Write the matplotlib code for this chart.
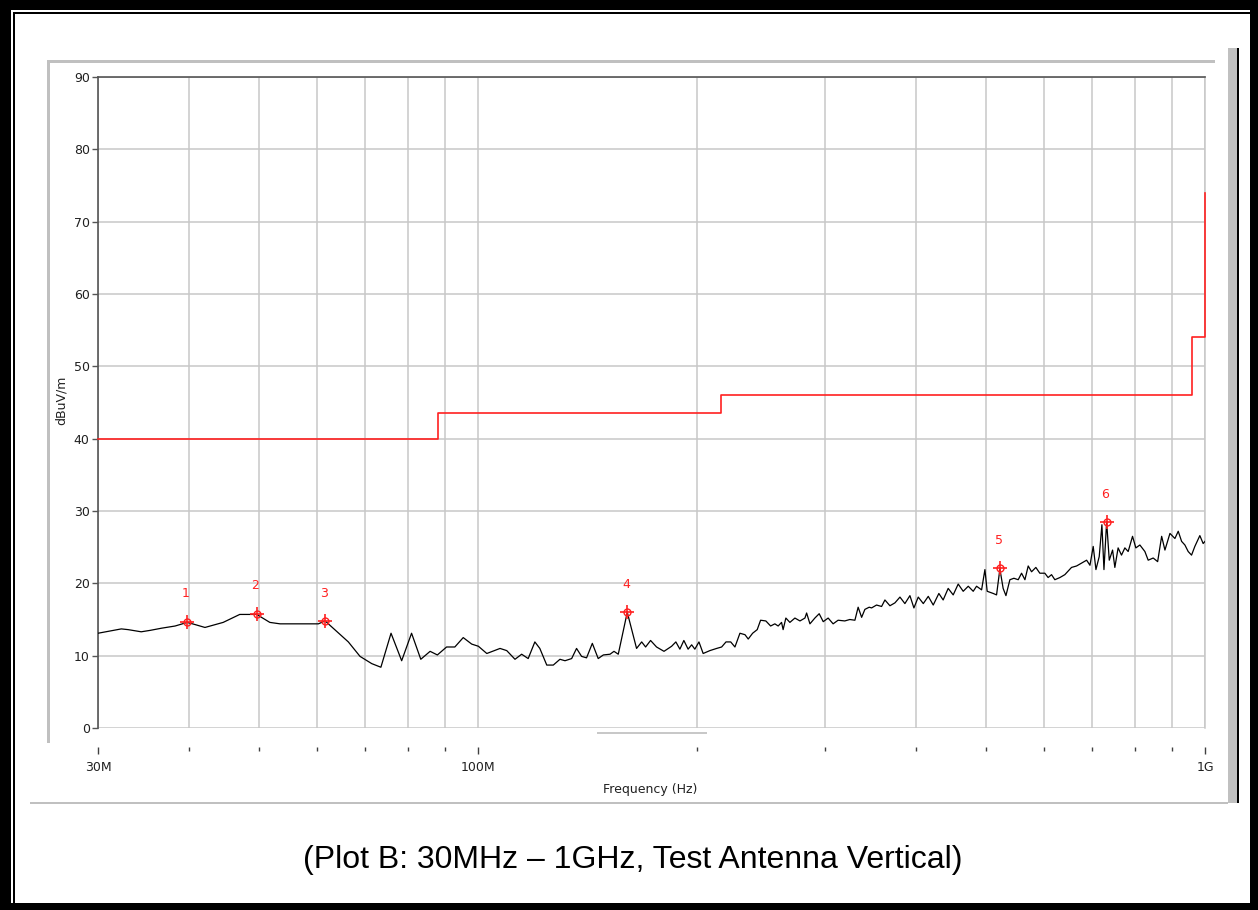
import matplotlib
matplotlib.use("Agg")
import matplotlib.pyplot as plt
from matplotlib.patches import Rectangle
from matplotlib.ticker import FixedLocator, NullFormatter

# ====================================
# 1. Data
# ====================================

trace_freq_mhz = [
    30.0, 32.3, 33.0, 34.4, 35.4, 36.7, 38.3, 39.8, 40.8, 42.1,
    44.6, 47.0, 48.4, 49.6, 51.7, 53.4, 60.3, 61.6, 63.5, 66.3,
    68.8, 71.4, 73.5, 75.9, 78.5, 81.0, 83.4, 85.9, 87.9, 90.5,
    92.9, 95.4, 98.0, 100.1, 102.8, 107.2, 109.5, 112.4, 114.8, 117.2,
    119.7, 121.6, 124.3, 126.9, 129.6, 131.7, 134.5, 136.6, 138.8, 141.0,
    143.6, 146.3, 148.7, 151.9, 153.8, 155.9, 160.4, 165.2, 167.9, 170.0,
    172.7, 176.0, 180.2, 184.6, 187.1, 189.5, 191.9, 194.5, 196.7, 198.7,
    201.3, 204.0, 208.4, 212.9, 216.3, 219.3, 222.6, 225.6, 229.2, 232.9,
    235.3, 238.6, 242.1, 244.7, 248.8, 252.6, 256.0, 258.7, 261.5, 262.8,
    265.1, 268.5, 272.8, 277.2, 281.6, 283.1, 286.1, 290.6, 294.6, 298.4,
    303.1, 307.9, 312.8, 319.5, 324.6, 329.9, 333.3, 337.0, 340.5, 345.2,
    347.8, 353.3, 359.0, 362.8, 368.6, 374.5, 380.5, 386.5, 392.7, 397.7,
    403.2, 409.7, 416.2, 422.8, 430.4, 436.3, 443.3, 450.4, 457.6, 464.9,
    472.4, 479.9, 485.0, 492.8, 498.0, 501.6, 511.3, 516.7, 522.2, 527.6,
    532.3, 539.0, 545.9, 553.4, 559.3, 565.3, 571.2, 577.3, 585.2, 592.6,
    602.1, 608.4, 615.0, 621.5, 631.5, 641.5, 655.2, 665.8, 676.4, 687.3,
    694.6, 701.8, 707.9, 715.3, 721.4, 726.1, 732.3, 738.4, 746.2, 751.6,
    759.4, 767.6, 775.8, 784.0, 794.9, 803.3, 813.6, 826.6, 835.3, 848.7,
    860.7, 871.7, 880.8, 894.9, 909.1, 918.7, 928.6, 938.3, 948.1, 958.3,
    968.3, 983.8, 994.2, 1000.0,
]

trace_level_dbuv = [
    13.1, 13.7, 13.6, 13.3, 13.5, 13.8, 14.1, 14.6, 14.3, 13.9,
    14.6, 15.7, 15.7, 15.7, 14.6, 14.4, 14.4, 14.8, 13.6, 11.9,
    9.9, 8.9, 8.4, 13.1, 9.3, 13.1, 9.5, 10.6, 10.1, 11.2,
    11.2, 12.5, 11.6, 11.3, 10.3, 11.0, 10.7, 9.5, 10.2, 9.6,
    11.9, 11.0, 8.7, 8.7, 9.5, 9.3, 9.6, 11.0, 9.9, 9.7,
    11.7, 9.6, 10.1, 10.2, 10.6, 10.2, 16.0, 11.0, 11.9, 11.2,
    12.1, 11.2, 10.6, 11.3, 11.9, 10.9, 12.1, 10.9, 11.5, 10.9,
    11.9, 10.3, 10.7, 11.0, 11.2, 11.9, 11.9, 11.2, 13.1, 12.9,
    12.3, 13.1, 13.6, 14.9, 14.8, 14.1, 14.4, 14.1, 14.6, 13.6,
    15.2, 14.6, 15.2, 14.8, 15.2, 15.9, 14.4, 15.2, 15.8, 14.7,
    15.2, 14.4, 14.9, 14.8, 15.0, 14.9, 16.7, 15.3, 16.4, 16.7,
    16.6, 17.0, 16.8, 17.7, 16.9, 17.3, 18.1, 17.2, 18.3, 16.6,
    18.1, 17.2, 18.2, 17.0, 18.6, 17.7, 19.3, 18.4, 19.9, 18.9,
    19.6, 18.9, 19.6, 19.1, 21.9, 18.9, 18.6, 18.4, 22.0, 19.3,
    18.3, 20.5, 20.7, 20.5, 21.4, 20.5, 22.4, 21.6, 22.2, 21.4,
    21.4, 20.8, 21.2, 20.5, 20.8, 21.2, 22.2, 22.4, 22.8, 23.2,
    22.5, 25.1, 21.9, 23.7, 28.1, 21.9, 28.5, 23.2, 24.6, 22.2,
    24.9, 23.9, 24.9, 24.4, 26.5, 24.9, 25.3, 24.4, 23.2, 23.5,
    23.0, 26.5, 24.6, 26.9, 26.2, 27.2, 25.8, 25.3, 24.4, 23.9,
    25.1, 26.6, 25.5, 25.8,
]

# limit line (FCC class B style steps)
limit_freq_mhz = [30, 88, 88, 216, 216, 960, 960, 1000, 1000]
limit_level_dbuv = [40, 40, 43.5, 43.5, 46, 46, 54, 54, 74]

marker_ids = ["1", "2", "3", "4", "5", "6"]
marker_freq_mhz = [39.8, 49.6, 61.6, 160.4, 522.2, 732.3]
marker_level_dbuv = [14.7, 15.8, 14.8, 16.0, 22.1, 28.5]

x_major = [30, 100, 1000]
x_major_labels = ["30M", "100M", "1G"]
x_minor = [40, 50, 60, 70, 80, 90, 200, 300, 400, 500, 600, 700, 800, 900]
y_ticks = [0, 10, 20, 30, 40, 50, 60, 70, 80, 90]

caption = "(Plot B: 30MHz \u2013 1GHz, Test Antenna Vertical)"

# ====================================
# 2. Figure and frame
# ====================================

W, H = 1258, 910
fig = plt.figure(figsize=(W / 100, H / 100), dpi=100)
fig.patch.set_facecolor("white")


def box(x0, y0, x1, y1, color):
    # pixel box, y measured from top
    fig.add_artist(Rectangle((x0 / W, 1 - y1 / H), (x1 - x0) / W, (y1 - y0) / H,
                             transform=fig.transFigure, facecolor=color,
                             edgecolor="none", zorder=0))


# outer black border (double line on left/top)
box(0, 0, 11, H, "black")
box(0, 0, W, 10, "black")
box(1250, 0, W, H, "black")
box(0, 903, W, H, "black")
box(13, 12, 15, 903, "black")
box(13, 12, 1250, 14, "black")

# grey panel edges of the screenshot
box(47, 60, 1215, 63, "#c0c0c0")
box(47, 60, 50, 743, "#c0c0c0")
box(30, 802, 1228, 804, "#c0c0c0")
box(1228, 48, 1237, 803, "#c0c0c0")
box(1237, 48, 1239, 803, "black")
box(597, 732, 707, 734, "#c8c8c8")

# ====================================
# 3. Axes
# ====================================

ax = fig.add_axes([98 / W, 1 - 728 / H, 1107 / W, 651 / H])
ax.set_xscale("log")
ax.set_xlim(30, 1000)
ax.set_ylim(0, 90)

grid_c = "#c8c8c8"
ax.xaxis.set_major_locator(FixedLocator(x_major))
ax.xaxis.set_minor_locator(FixedLocator(x_minor))
ax.set_xticklabels(x_major_labels)
ax.xaxis.set_minor_formatter(NullFormatter())
ax.set_yticks(y_ticks)
ax.grid(True, which="both", color=grid_c, linewidth=1.1)
ax.set_axisbelow(True)

for side in ["top", "left"]:
    ax.spines[side].set_color("#555555")
    ax.spines[side].set_linewidth(1.2)
ax.spines["right"].set_color(grid_c)
ax.spines["right"].set_linewidth(1.1)
ax.spines["bottom"].set_position(("outward", 14))
ax.spines["bottom"].set_visible(False)

ax.tick_params(axis="y", direction="out", length=4, width=1, color="#555555",
               labelsize=9, labelcolor="#202020", pad=2)
ax.tick_params(axis="x", which="major", direction="out", length=5, width=1,
               color="#404040", labelsize=9, labelcolor="#202020", pad=5)
ax.tick_params(axis="x", which="minor", direction="out", length=3, width=1,
               color="#404040")

# ====================================
# 4. Series
# ====================================

ax.plot(limit_freq_mhz, limit_level_dbuv, color="#ff2020", linewidth=1.2,
        zorder=3, clip_on=False)
ax.plot(trace_freq_mhz, trace_level_dbuv, color="black", linewidth=0.9, zorder=4)

ax.plot(marker_freq_mhz, marker_level_dbuv, linestyle="none", marker="+",
        markersize=10, markeredgewidth=1.2, color="#ff2020", zorder=5)
ax.plot(marker_freq_mhz, marker_level_dbuv, linestyle="none", marker="o",
        markersize=5, markerfacecolor="none", markeredgewidth=1.0,
        markeredgecolor="#ff2020", zorder=5)
for mid, f, lv in zip(marker_ids, marker_freq_mhz, marker_level_dbuv):
    ax.annotate(mid, (f, lv), xytext=(-1, 20), textcoords="offset points",
                ha="center", va="center", color="#ff2020", fontsize=9)

# ====================================
# 5. Labels
# ====================================

fig.text(650 / W, 1 - 790 / H, "Frequency (Hz)", ha="center", va="center",
         fontsize=9, color="#202020")
fig.text(61 / W, 1 - 400 / H, "dBuV/m", ha="center", va="center",
         rotation=90, fontsize=9, color="#202020")
fig.text(633 / W, 1 - 860 / H, caption, ha="center", va="center",
         fontsize=23, family="Liberation Sans", color="black")

plt.savefig("out.png", dpi=100)
plt.close()
